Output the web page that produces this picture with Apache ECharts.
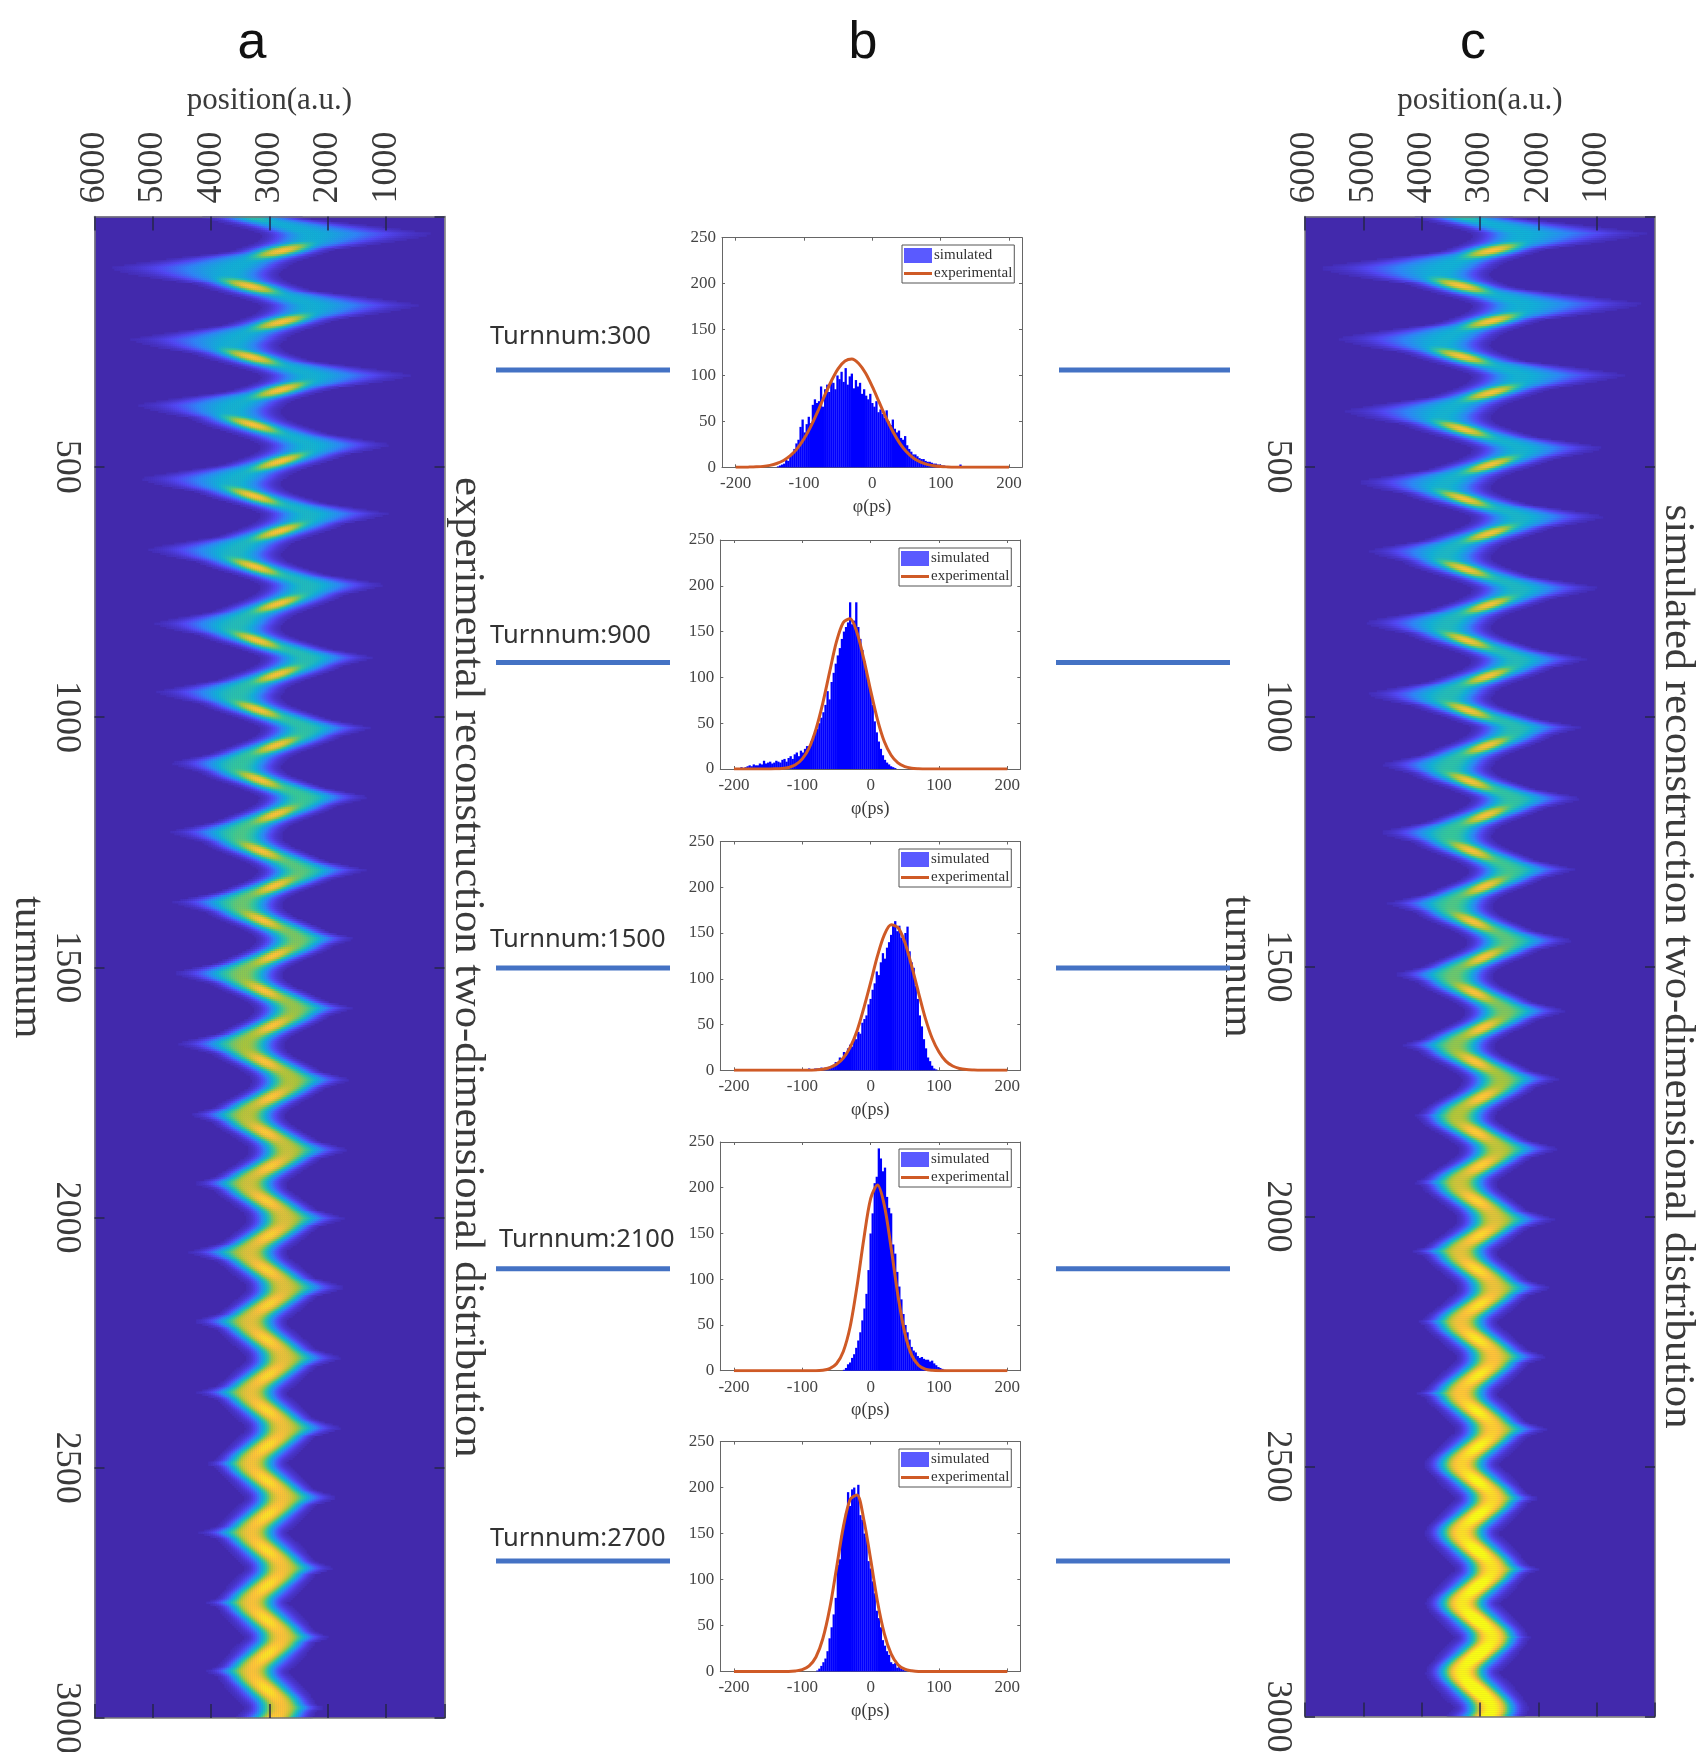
<!DOCTYPE html>
<html><head><meta charset="utf-8">
<style>html,body{margin:0;padding:0;background:#fff;overflow:hidden}#c{width:1702px;height:1752px}</style>
<script src="https://cdn.jsdelivr.net/npm/echarts@6/dist/echarts.min.js"></script>
</head><body><div id="c"></div>
<script>
// ---- Values ----
// Turn / outermost position of each zig-zag tip, panel a and panel c.
const tipTurnsA=[-35,35,103,177,246,317,377,456,524,594,665,736,813,881,950,1022,1092,1160,1230,1306,1370,1443,1512,1582,1653,1725,1795,1865,1932,2002,2070,2140,2208,2281,2350,2421,2492,2560,2630,2701,2770,2839,2907,2980,3050];
const tipPosA=[5500,250,5680,470,5330,590,5220,930,5170,980,5050,1050,4930,1220,4880,1275,4650,1330,4650,1395,4590,1570,4570,1620,4500,1670,4310,1720,4240,1790,4310,1790,4240,1840,4190,1840,4070,1900,4150,1960,4070,2010,4070,2080,4000];
const tipTurnsC=[-35,34,103,175,244,317,389,463,531,600,669,743,812,885,955,1022,1096,1164,1232,1306,1374,1448,1516,1589,1657,1725,1799,1865,1932,2006,2070,2143,2211,2281,2354,2426,2496,2564,2632,2706,2774,2842,2911,2985,3050];
const tipPosC=[5500,200,5690,250,5400,540,5280,880,5060,880,4890,990,4940,1170,4890,1290,4660,1290,4660,1400,4540,1450,4430,1570,4320,1680,4150,1720,4140,1790,4140,1850,4080,1910,4080,1910,3970,2020,3910,2020,3850,2130,3790,2180,3700];
// Band properties read at these turns.
const stageTurns=[0,500,1000,1500,2000,2500,3000];
const coreAtLeftTip=[3560,3540,3500,3450,3350,3320,3300];
const coreAtRightTip=[2300,2340,2400,2550,2750,2790,2810];
const streakAfterRightTip=[2790,2830,2880,2940,3000,3040,3040];
const streakAfterLeftTip=[3350,3280,3200,3110,3060,3050,3050];
const streakSlope=[43,30,27,21,18,16,15];
const streakThickness=[10,10,11,13,18,22,24];
const streakLength=[480,460,430,400,370,350,350];
const bandSigma=[420,400,360,320,295,285,275];
const bandLevelA=[.43,.45,.53,.67,.80,.84,.85];
const streakLevelA=[.87,.87,.85,.85,.86,.87,.88];
const bandLevelC=[.43,.45,.51,.63,.80,.90,1.0];
const streakLevelC=[.87,.85,.85,.85,.87,.95,1.0];
const parula=['#4229ac','#5248f5','#2e87f7','#11b1d6','#37c897','#abc739','#fec338','#f9fb15'];

// Histogram bins (3 ps wide), first bin centre then counts, estimated by eye.
const binStart=[-138,-192,-111,-39,-78];
const hist300=[1,2,3,4,8,7,12,15,20,26,30,44,52,38,47,55,48,68,74,70,72,88,66,85,90,82,94,92,85,100,96,104,93,108,90,99,102,86,95,88,92,80,85,78,74,80,70,66,72,60,63,58,54,62,50,46,52,42,38,40,32,30,34,24,20,17,14,14,12,10,9,9,7,6,6,5,4,4,3,3,2,2,1,1,0,0,0,0,0,3];
const hist900=[1,2,1,2,3,4,3,5,4,4,6,5,9,6,7,8,6,7,9,8,7,10,11,8,12,14,11,16,18,14,20,18,22,25,25,30,36,40,44,50,56,62,70,85,76,95,105,115,124,132,142,150,155,160,182,158,162,182,155,142,130,118,105,95,85,70,52,40,30,22,15,10,7,5,3,2,1];
const hist1500=[1,0,1,1,0,1,1,2,1,1,2,2,2,3,2,3,3,4,4,6,9,7,14,11,20,16,24,28,26,36,34,42,40,52,56,60,72,78,88,95,108,104,118,128,122,134,140,148,158,163,152,158,145,142,150,157,130,118,112,92,78,60,48,34,24,14,10,5,2,1];
const hist2100=[1,3,7,9,14,18,25,33,42,55,68,84,110,150,172,205,212,243,232,218,222,190,178,172,138,128,108,92,78,62,50,42,34,26,22,20,16,14,15,13,12,12,10,11,8,6,4,3,2,1];
const hist2700=[1,3,6,10,14,22,36,48,62,80,116,122,148,160,172,195,180,198,200,192,203,170,165,150,146,120,112,98,85,66,58,48,34,28,22,18,10,8,9,4,6,3,2,1];
const histAll=[hist300,hist900,hist1500,hist2100,hist2700];
// Experimental curves: phase (ps) and value.
const curveX=[-200,-190,-180,-170,-160,-150,-140,-130,-120,-110,-100,-90,-80,-70,-60,-50,-40,-30,-20,-10,0,10,20,30,40,50,60,70,80,90,100,110,120,130,140,150,160,170,180,190,200];
const curve300=[0,0,.2,.5,1,2.1,4.1,7.4,12.6,20.3,31,44.6,60.6,77.8,94,107.5,115.8,118,113,102.6,87.8,70.9,54,38.9,26.3,16.9,10.2,5.9,3.2,1.6,.8,.4,.1,0,0,0,0,0,0,0,0];
const curve900=[0,0,0,0,0,0,.2,.6,1.7,4.6,11,23,43.6,72,106,139,160,164,149,120,85.6,54,30,15,6.7,2.6,.9,.3,0,0,0,0,0,0,0,0,0,0,0,0,0];
const curve1500=[0,0,0,0,0,0,0,0,0,0,0,0,.4,1.1,2.9,6.5,13.4,25,43,68,96,125,148,159,156,140,114,85,57,35,20,10,4.7,2,.8,.3,0,0,0,0,0];
const curve2100=[0,0,0,0,0,0,0,0,0,0,0,0,0,.5,2.3,7.6,21,48,92,144,188,203,181,134,82,41,17,6,1.7,.4,0,0,0,0,0,0,0,0,0,0,0];
const curve2700=[0,0,0,0,0,0,0,0,0,.5,1.9,6,15.7,35.5,68,112,157,187,192,165,122,76,41,19,7.3,2.4,.7,0,0,0,0,0,0,0,0,0,0,0,0,0,0];
const curveAll=[curve300,curve900,curve1500,curve2100,curve2700];
const phaseTicks=[-200,-100,0,100,200];
const countTicks=[0,50,100,150,200,250];
const turnLabels=['Turnnum:300','Turnnum:900','Turnnum:1500','Turnnum:2100','Turnnum:2700'];
const panelLetters=['a','b','c'];

// ---- Reconstruction of the two colour maps from the readings above ----
function at(arr,t){
  if(t<=stageTurns[0])return arr[0];
  for(let i=1;i<stageTurns.length;i++) if(t<=stageTurns[i]){
    const f=(t-stageTurns[i-1])/(stageTurns[i]-stageTurns[i-1]);
    return arr[i-1]+(arr[i]-arr[i-1])*f;}
  return arr[arr.length-1];
}
const ROW=4,COL=6000/175;
function cells(turns,pos,band,streak){
  const out=[];
  const isL=i=>pos[i]>3000;
  const core=i=>at(isL(i)?coreAtLeftTip:coreAtRightTip,Math.max(0,turns[i]));
  for(let r=0;r<750;r++){
    const t=(r+.5)*ROW;
    let k=0;while(k<turns.length-2&&turns[k+1]<=t)k++;
    const T0=turns[k],T1=turns[k+1],phi=(t-T0)/(T1-T0),tm=(T0+T1)/2;
    const c0=core(k),c1=core(k+1);
    const cm=at(isL(k)?streakAfterLeftTip:streakAfterRightTip,t);
    const c=c0+(c1-c0)*(1-Math.cos(Math.PI*phi))/2+(cm-(c0+c1)/2)*Math.sin(Math.PI*phi);
    const s0=at(bandSigma,t),Ab=at(band,t),As=at(streak,t)*(k===0?.62:1);
    let sL=s0,sR=s0;
    const Dt=56;
    [k,k+1].forEach(j=>{
      const w=Math.max(0,1-Math.abs(t-turns[j])/Dt);
      const s=Math.abs(pos[j]-core(j))*w/2.3;
      if(isL(j)) sL=Math.max(sL,s); else sR=Math.max(sR,s);
    });
    const slope=(isL(k)?-1:1)*at(streakSlope,t),sT=at(streakThickness,t),sX=at(streakLength,t);
    for(let q=0;q<175;q++){
      const x=(q+.5)*COL,d=x-c,s=d>0?sL:sR;
      const p=2+.5*Math.pow(Math.min(1,s0/s),4);
      const b=Ab*Math.exp(-.5*Math.pow(Math.abs(d/s),p));
      const dx=x-cm,dt=t-tm-dx/slope;
      const st=As*Math.exp(-.5*dx*dx/(sX*sX)-.5*dt*dt/(sT*sT));
      const v=Math.pow(Math.pow(b,8)+Math.pow(st,8),1/8);
      if(v>.025) out.push([q,r,+v.toFixed(3)]);
    }
  }
  return out;
}

// ---- Chart ----
const serif='"Liberation Serif"',FG='#3a3a3a';
const grid=[],xAxis=[],yAxis=[],series=[],visualMap=[],legend=[];
const catX=Array.from({length:175},(_,i)=>i),catY=Array.from({length:750},(_,i)=>i);
function heat(left,width,top,height,data,rightName,gapRight,topGap){
  const g=grid.length;
  grid.push({left,top,width,height,backgroundColor:'#4229ac',show:true,borderWidth:0,outerBoundsMode:'none',containLabel:false});
  const xc=xAxis.length,yc=yAxis.length;
  xAxis.push({gridIndex:g,type:'category',data:catX,show:false,inverse:true});
  yAxis.push({gridIndex:g,type:'category',data:catY,show:false,inverse:true});
  const line={show:true,onZero:false,lineStyle:{color:'#777',width:1.5}};
  const tick={show:true,inside:true,length:14,lineStyle:{color:'#26264a',width:1.5}};
  xAxis.push({gridIndex:g,type:'value',position:'top',min:0,max:6000,interval:1000,inverse:true,z:6,splitLine:{show:false},axisLine:line,axisTick:tick,
    name:'position(a.u.)',nameLocation:'middle',nameGap:topGap,nameTextStyle:{fontFamily:serif,fontSize:31,color:FG},
    axisLabel:{rotate:-90,fontFamily:serif,fontSize:36,color:FG,margin:13,showMinLabel:false,formatter:v=>v===0?'':String(v)}});
  xAxis.push({gridIndex:g,type:'value',position:'bottom',min:0,max:6000,interval:1000,inverse:true,z:6,splitLine:{show:false},axisLine:line,axisTick:tick,axisLabel:{show:false}});
  const tickY={show:true,inside:true,length:10,lineStyle:{color:'#26264a',width:1.5}};
  yAxis.push({gridIndex:g,type:'value',position:'left',min:0,max:3000,interval:500,inverse:true,z:6,splitLine:{show:false},axisLine:line,axisTick:tickY,
    name:'turnnum',nameLocation:'middle',nameRotate:-90,nameGap:42,nameTextStyle:{fontFamily:serif,fontSize:42,color:FG},
    axisLabel:{rotate:-90,fontFamily:serif,fontSize:36,color:FG,margin:10,showMinLabel:false,hideOverlap:false,formatter:v=>v===0?'':String(v)}});
  yAxis.push({gridIndex:g,type:'value',position:'right',min:0,max:3000,interval:500,inverse:true,z:6,splitLine:{show:false},axisLine:line,axisTick:tickY,axisLabel:{show:false},
    name:rightName,nameLocation:'middle',nameRotate:-90,nameGap:gapRight,nameTextStyle:{fontFamily:serif,fontSize:42.6,color:FG}});
  series.push({type:'heatmap',xAxisIndex:xc,yAxisIndex:yc,data,progressive:0,silent:true,emphasis:{disabled:true},itemStyle:{borderWidth:0},z:1});
  visualMap.push({show:false,type:'continuous',seriesIndex:series.length-1,dimension:2,min:0,max:1,inRange:{color:parula}});
}
heat(94.5,350,216.5,1501.5,cells(tipTurnsA,tipPosA,bandLevelA,streakLevelA),'experimental reconstruction two-dimensional distribution',1,100);
heat(1305,350,216.5,1500,cells(tipTurnsC,tipPosC,bandLevelC,streakLevelC),'simulated reconstruction two-dimensional distribution',1,100);

const plotBoxes=[[722,237.7,300,229.6],[720.3,540,300,229],[720.3,841.5,300,228.8],[720.3,1142,300,228.7],[720.3,1441.6,300,229.8]];
const legendBoxes=[[902,245],[899,548],[899,849],[899,1149],[899,1449]];
plotBoxes.forEach((b,i)=>{
  const g=grid.length;
  grid.push({left:b[0],top:b[1],width:b[2],height:b[3],show:false,outerBoundsMode:'none',containLabel:false});
  const line={show:true,onZero:false,lineStyle:{color:'#666',width:1}};
  const xi=xAxis.length,yi=yAxis.length;
  const common={gridIndex:g,type:'value',min:-220,max:219,splitLine:{show:false},axisLine:line,
    axisTick:{show:true,inside:true,length:3,lineStyle:{color:'#666'},customValues:phaseTicks}};
  xAxis.push({...common,position:'bottom',name:'φ(ps)',nameLocation:'middle',nameGap:31,nameTextStyle:{fontFamily:serif,fontSize:18,color:FG},
    axisLabel:{fontFamily:serif,fontSize:17,color:'#444',margin:8,customValues:phaseTicks,showMinLabel:true,showMaxLabel:true}});
  xAxis.push({...common,position:'top',axisLabel:{show:false}});
  const cy={gridIndex:g,type:'value',min:0,max:250,interval:50,splitLine:{show:false},axisLine:line,axisTick:{show:true,inside:true,length:3,lineStyle:{color:'#666'}}};
  yAxis.push({...cy,position:'left',axisLabel:{fontFamily:serif,fontSize:17,color:'#444',margin:6,formatter:v=>countTicks.includes(v)?String(v):''}});
  yAxis.push({...cy,position:'right',axisLabel:{show:false}});
  series.push({name:'simulated',type:'bar',xAxisIndex:xi,yAxisIndex:yi,barWidth:2.3,silent:true,itemStyle:{color:'#0000ff'},
    data:histAll[i].map((v,j)=>[binStart[i]+3*j,v])});
  series.push({name:'experimental',type:'line',xAxisIndex:xi,yAxisIndex:yi,smooth:.3,symbol:'none',silent:true,z:5,
    lineStyle:{color:'#cf5a26',width:3},itemStyle:{color:'#cf5a26'},data:curveX.map((x,j)=>[x,curveAll[i][j]])});
  legend.push({left:legendBoxes[i][0],top:legendBoxes[i][1],orient:'vertical',selectedMode:false,backgroundColor:'#fff',borderColor:'#555',borderWidth:1,
    padding:[3,2,2,2],itemGap:3,itemWidth:28,itemHeight:15,z:8,align:'left',
    textStyle:{fontFamily:serif,fontSize:15,color:'#333',padding:[0,0,0,-3]},
    data:[{name:'simulated',icon:'rect',itemStyle:{color:'#5a5aff'}},{name:'experimental',icon:'path://M0 0H28V3H0Z',itemStyle:{color:'#cf5a26'}}]});
});

// Annotations: connector segments, Turnnum labels, panel letters.
const connectors=[[370,1059],[662.4,1056],[968,1056],[1268.7,1056],[1561,1056]];
const labelPos=[[490,337],[490,636],[490,940],[499,1240],[490,1539]];
const graphic=[];
connectors.forEach(c=>{
  [[496,670],[c[1],1230]].forEach(s=>graphic.push({type:'line',silent:true,z:20,shape:{x1:s[0],y1:c[0],x2:s[1],y2:c[0]},style:{stroke:'#4472c4',lineWidth:5}}));
});
turnLabels.forEach((t,i)=>graphic.push({type:'text',silent:true,z:20,style:{text:t,x:labelPos[i][0],y:labelPos[i][1],fill:'#333',font:'25.5px "Noto Sans"',textAlign:'left',textVerticalAlign:'middle'}}));
[252,863,1473].forEach((x,i)=>graphic.push({type:'text',silent:true,z:20,style:{text:panelLetters[i],x,y:44,fill:'#111',font:'52px "Liberation Sans"',textAlign:'center',textVerticalAlign:'middle'}}));

const chart=echarts.init(document.getElementById('c'),null,{renderer:'canvas',width:1702,height:1752});
chart.setOption({animation:false,backgroundColor:'#fff',tooltip:{show:false},grid,xAxis,yAxis,series,visualMap,legend,graphic});
</script></body></html>
